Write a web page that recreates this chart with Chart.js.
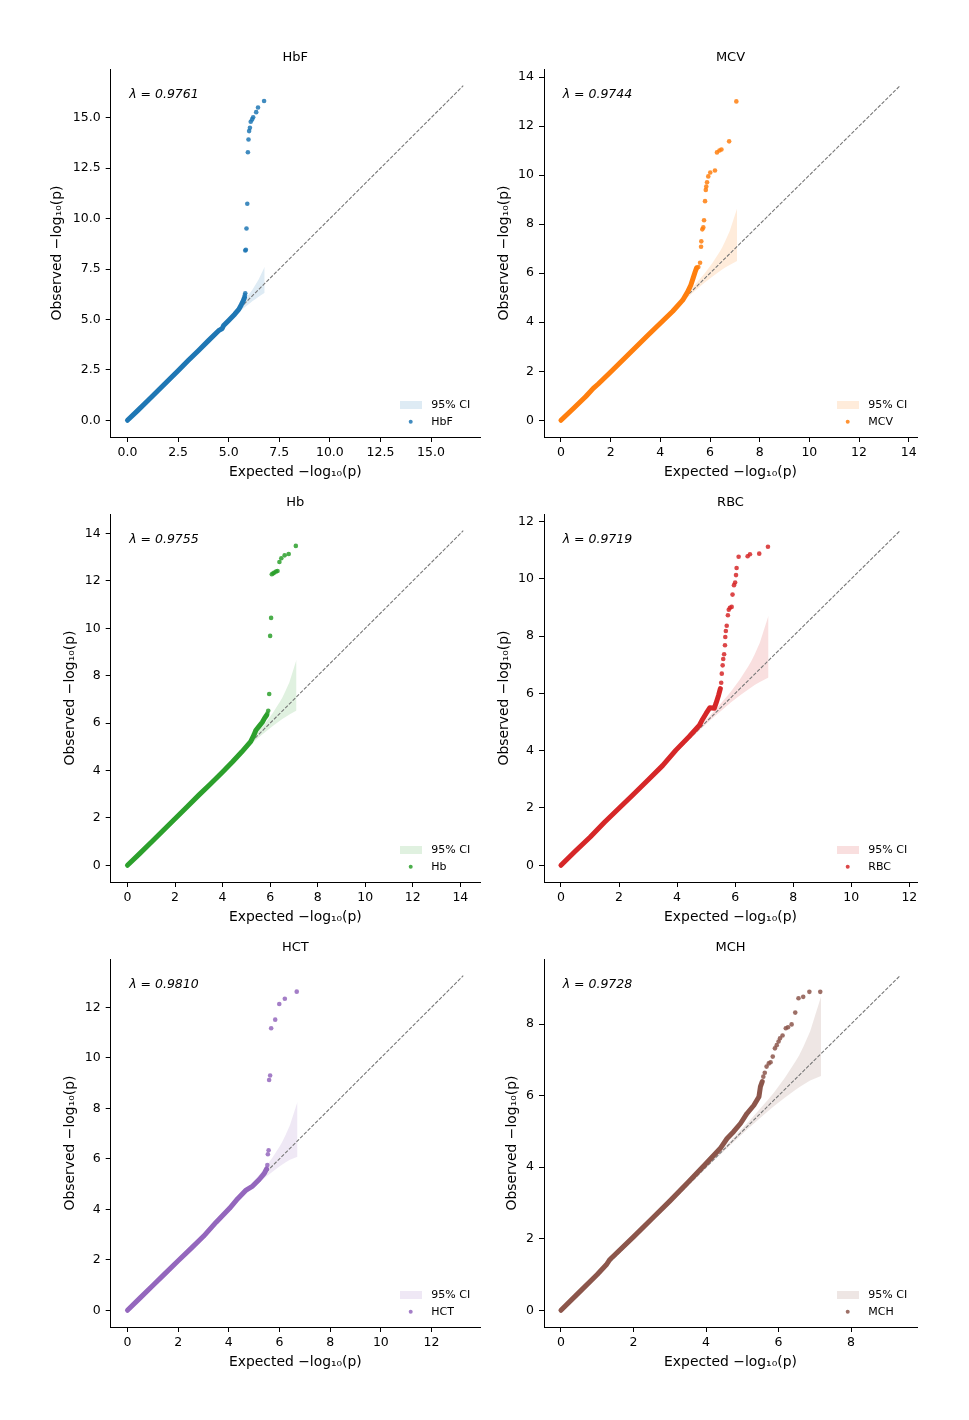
<!DOCTYPE html>
<html>
<head>
<meta charset="utf-8">
<title>QQ plots</title>
<script src="https://cdn.jsdelivr.net/npm/chart.js@4.4.1/dist/chart.umd.min.js"></script>
<style>
  body { margin: 0; background: #fff; }
  #page { position: relative; width: 969px; height: 1420px; background: #fff; }
  canvas { position: absolute; }
</style>
</head>
<body>
<div id="page"></div>
<script>
// panel names, genomic inflation and colours (tab10)
const traitNames = ['HbF', 'MCV', 'Hb', 'RBC', 'HCT', 'MCH'];
const lambdaValues = ['0.9761', '0.9744', '0.9755', '0.9719', '0.9810', '0.9728'];
const traitColors = ['#1f77b4', '#ff7f0e', '#2ca02c', '#d62728', '#9467bd', '#8c564b'];
// end of the y = x reference line in each panel
const diagonalEnds = [16.59, 13.65, 14.12, 11.68, 13.25, 9.35];

// tick labels (same on both axes)
const hbfTicks = [0, 2.5, 5, 7.5, 10, 12.5, 15];
const mcvTicks = [0, 2, 4, 6, 8, 10, 12, 14];
const hbTicks = [0, 2, 4, 6, 8, 10, 12, 14];
const rbcTicks = [0, 2, 4, 6, 8, 10, 12];
const hctTicks = [0, 2, 4, 6, 8, 10, 12];
const mchTicks = [0, 2, 4, 6, 8];

// HbF
const hbfBodyExp = [0, 0.5, 1, 1.5, 2, 2.5, 3, 3.5, 4, 4.5, 4.68, 4.75, 5, 5.3, 5.5, 5.62, 5.72, 5.78];
const hbfBodyObs = [0, 0.48, 0.97, 1.46, 1.96, 2.46, 2.96, 3.45, 3.95, 4.44, 4.55, 4.7, 4.95, 5.26, 5.5, 5.72, 5.92, 6.08];
const hbfTailExp = [5.80, 5.82, 5.82, 5.85, 5.88, 5.92, 5.95, 5.98, 6.01, 6.05, 6.09, 6.16, 6.21, 6.36, 6.45, 6.75];
const hbfTailObs = [6.20, 6.30, 8.42, 8.45, 9.51, 10.74, 13.29, 13.92, 14.34, 14.50, 14.80, 14.92, 15.03, 15.28, 15.51, 15.83];
const hbfCiExp = [0, 1.78, 2.78, 3.78, 4.78, 5.30, 5.48, 5.78, 6.08, 6.18, 6.30, 6.48, 6.78];
const hbfCiUp = [0, 1.78, 2.79, 3.80, 4.83, 5.39, 5.60, 5.96, 6.35, 6.49, 6.68, 6.98, 7.61];
const hbfCiLo = [0, 1.78, 2.77, 3.76, 4.72, 5.19, 5.34, 5.59, 5.83, 5.91, 5.99, 6.12, 6.32];

// MCV
const mcvBodyExp = [0, 0.5, 1, 1.3, 1.5, 2, 2.5, 3, 3.5, 4, 4.5, 4.9, 5.1, 5.23, 5.33, 5.4, 5.46];
const mcvBodyObs = [0, 0.48, 0.97, 1.3, 1.48, 1.97, 2.47, 2.97, 3.47, 3.96, 4.45, 4.9, 5.24, 5.52, 5.83, 6.05, 6.22];
const mcvTailExp = [5.53, 5.60, 5.64, 5.65, 5.69, 5.73, 5.76, 5.80, 5.83, 5.85, 5.88, 5.93, 6.01, 6.20, 6.28, 6.38, 6.46, 6.77, 7.06];
const mcvTailObs = [6.25, 6.43, 7.08, 7.30, 7.79, 7.87, 8.16, 8.94, 9.40, 9.54, 9.71, 9.95, 10.11, 10.19, 10.93, 11.01, 11.05, 11.38, 13.01];
const mcvCiExp = [0, 2.09, 3.09, 4.09, 5.09, 5.61, 5.79, 6.09, 6.39, 6.49, 6.61, 6.79, 7.09];
const mcvCiUp = [0, 2.09, 3.10, 4.12, 5.18, 5.78, 6.00, 6.41, 6.88, 7.05, 7.30, 7.71, 8.64];
const mcvCiLo = [0, 2.09, 3.08, 4.06, 5.01, 5.47, 5.62, 5.86, 6.08, 6.15, 6.23, 6.34, 6.50];

// Hb
const hbBodyExp = [0, 0.5, 1, 1.5, 2, 2.5, 3, 3.5, 4, 4.4, 4.8, 5.18, 5.32, 5.4, 5.53, 5.67, 5.76, 5.85];
const hbBodyObs = [0, 0.48, 0.97, 1.47, 1.96, 2.46, 2.96, 3.44, 3.94, 4.35, 4.78, 5.22, 5.5, 5.7, 5.86, 6.04, 6.2, 6.33];
const hbTailExp = [5.88, 5.92, 5.96, 6.00, 6.04, 6.07, 6.13, 6.18, 6.25, 6.31, 6.39, 6.47, 6.61, 6.78, 7.08];
const hbTailObs = [6.40, 6.52, 7.23, 9.68, 10.44, 12.28, 12.32, 12.36, 12.40, 12.42, 12.80, 12.96, 13.08, 13.14, 13.48];
const hbCiExp = [0, 2.11, 3.11, 4.11, 5.11, 5.63, 5.81, 6.11, 6.41, 6.51, 6.63, 6.81, 7.11];
const hbCiUp = [0, 2.11, 3.12, 4.14, 5.20, 5.80, 6.02, 6.43, 6.90, 7.07, 7.32, 7.73, 8.68];
const hbCiLo = [0, 2.11, 3.10, 4.08, 5.03, 5.49, 5.64, 5.88, 6.10, 6.17, 6.25, 6.36, 6.53];

// RBC
const rbcBodyExp = [0, 0.5, 1, 1.5, 2, 2.5, 3, 3.5, 3.96, 4.42, 4.77, 4.88, 5.0, 5.13, 5.28, 5.34, 5.43, 5.49];
const rbcBodyObs = [0, 0.5, 0.98, 1.5, 1.99, 2.48, 2.98, 3.48, 4.02, 4.5, 4.89, 5.1, 5.3, 5.5, 5.48, 5.65, 5.94, 6.17];
const rbcTailExp = [5.52, 5.54, 5.57, 5.59, 5.62, 5.65, 5.66, 5.68, 5.71, 5.75, 5.78, 5.82, 5.88, 5.91, 5.96, 6.00, 6.03, 6.05, 6.12, 6.43, 6.51, 6.83, 7.13];
const rbcTailObs = [6.37, 6.69, 6.98, 7.20, 7.37, 7.68, 7.97, 8.18, 8.36, 8.73, 8.92, 8.99, 9.02, 9.45, 9.78, 9.87, 10.13, 10.38, 10.77, 10.79, 10.86, 10.88, 11.12];
const rbcCiExp = [0, 2.15, 3.15, 4.15, 5.15, 5.67, 5.85, 6.15, 6.45, 6.55, 6.67, 6.85, 7.15];
const rbcCiUp = [0, 2.15, 3.16, 4.18, 5.24, 5.84, 6.06, 6.47, 6.94, 7.11, 7.36, 7.77, 8.72];
const rbcCiLo = [0, 2.15, 3.14, 4.12, 5.07, 5.53, 5.68, 5.92, 6.14, 6.21, 6.29, 6.40, 6.56];

// HCT
const hctBodyExp = [0, 0.5, 1, 1.5, 2, 2.5, 3, 3.5, 4.03, 4.35, 4.68, 4.94, 5.2, 5.4, 5.49];
const hctBodyObs = [0, 0.49, 0.98, 1.47, 1.96, 2.44, 2.93, 3.49, 4.04, 4.42, 4.76, 4.92, 5.18, 5.42, 5.6];
const hctTailExp = [5.52, 5.54, 5.57, 5.59, 5.63, 5.67, 5.83, 5.99, 6.21, 6.68];
const hctTailObs = [5.75, 6.18, 6.34, 9.12, 9.30, 11.17, 11.51, 12.13, 12.34, 12.62];
const hctCiExp = [0, 1.71, 2.71, 3.71, 4.71, 5.23, 5.41, 5.71, 6.01, 6.11, 6.23, 6.41, 6.71];
const hctCiUp = [0, 1.71, 2.72, 3.74, 4.80, 5.40, 5.62, 6.03, 6.50, 6.67, 6.92, 7.33, 8.26];
const hctCiLo = [0, 1.71, 2.70, 3.68, 4.63, 5.09, 5.24, 5.48, 5.70, 5.77, 5.85, 5.96, 6.08];

// MCH
const mchBodyExp = [0, 0.5, 1, 1.25, 1.35, 2, 2.5, 3, 3.5, 4, 4.39, 4.58, 4.76, 4.95, 5.13, 5.32, 5.46, 5.5, 5.55];
const mchBodyObs = [0, 0.5, 1.0, 1.27, 1.42, 2.05, 2.55, 3.05, 3.57, 4.1, 4.52, 4.8, 4.99, 5.22, 5.5, 5.73, 5.97, 6.25, 6.39];
const mchTailExp = [5.58, 5.62, 5.67, 5.73, 5.78, 5.84, 5.90, 5.95, 6.00, 6.04, 6.11, 6.20, 6.26, 6.36, 6.46, 6.55, 6.68, 6.85, 7.15];
const mchTailObs = [6.53, 6.64, 6.81, 6.90, 6.93, 7.09, 7.32, 7.41, 7.51, 7.60, 7.68, 7.88, 7.91, 7.99, 8.32, 8.72, 8.76, 8.90, 8.90];
const mchCiExp = [0, 2.17, 3.17, 4.17, 5.17, 5.69, 5.87, 6.17, 6.47, 6.57, 6.69, 6.87, 7.17];
const mchCiUp = [0, 2.17, 3.18, 4.20, 5.26, 5.86, 6.08, 6.49, 6.96, 7.13, 7.38, 7.79, 8.76];
const mchCiLo = [0, 2.17, 3.16, 4.14, 5.09, 5.55, 5.70, 5.94, 6.16, 6.23, 6.31, 6.42, 6.55];

const panels = [
  { ticks: hbfTicks, digits: 1, body: [hbfBodyExp, hbfBodyObs], tail: [hbfTailExp, hbfTailObs], ci: [hbfCiExp, hbfCiUp, hbfCiLo] },
  { ticks: mcvTicks, digits: 0, body: [mcvBodyExp, mcvBodyObs], tail: [mcvTailExp, mcvTailObs], ci: [mcvCiExp, mcvCiUp, mcvCiLo] },
  { ticks: hbTicks, digits: 0, body: [hbBodyExp, hbBodyObs], tail: [hbTailExp, hbTailObs], ci: [hbCiExp, hbCiUp, hbCiLo] },
  { ticks: rbcTicks, digits: 0, body: [rbcBodyExp, rbcBodyObs], tail: [rbcTailExp, rbcTailObs], ci: [rbcCiExp, rbcCiUp, rbcCiLo] },
  { ticks: hctTicks, digits: 0, body: [hctBodyExp, hctBodyObs], tail: [hctTailExp, hctTailObs], ci: [hctCiExp, hctCiUp, hctCiLo] },
  { ticks: mchTicks, digits: 0, body: [mchBodyExp, mchBodyObs], tail: [mchTailExp, mchTailObs], ci: [mchCiExp, mchCiUp, mchCiLo] }
];

// layout of the 3x2 grid (page pixels)
const colLeft = [0, 484];
const colWidth = [484, 485];
const yAxisWidth = [110.7, 60];
const padRight = [2, 52];
const yLabelCenter = [57, 20, 70, 20, 70, 28];

const FONT = '"DejaVu Sans", sans-serif';
Chart.defaults.font.family = FONT;
Chart.defaults.color = '#000';

function zip(xs, ys) {
  return xs.map((x, i) => ({ x: x, y: ys[i] }));
}

function rgba(hex, a) {
  const n = parseInt(hex.slice(1), 16);
  return `rgba(${(n >> 16) & 255}, ${(n >> 8) & 255}, ${n & 255}, ${a})`;
}

// title, lambda and legend drawn inside each panel
const panelText = {
  id: 'panelText',
  afterDraw(chart, args, opts) {
    const ctx = chart.ctx;
    const a = chart.chartArea;
    ctx.save();
    ctx.fillStyle = '#000';
    ctx.font = '13px ' + FONT;
    ctx.textAlign = 'center';
    ctx.textBaseline = 'middle';
    ctx.fillText(opts.title, (a.left + a.right) / 2, a.top - 11.5);

    ctx.font = 'italic 12.5px ' + FONT;
    ctx.textAlign = 'left';
    ctx.fillText('\u03bb = ' + opts.lambda, a.left + 0.05 * (a.right - a.left), a.top + 26);

    // legend, lower right
    ctx.fillStyle = rgba(opts.color, 0.15);
    ctx.fillRect(a.right - 80, a.bottom - 36, 22, 8);
    ctx.fillStyle = rgba(opts.color, 0.85);
    ctx.beginPath();
    ctx.arc(a.right - 69.3, a.bottom - 15.3, 2, 0, Math.PI * 2);
    ctx.fill();
    ctx.fillStyle = '#000';
    ctx.font = '11px ' + FONT;
    ctx.fillText('95% CI', a.right - 48.7, a.bottom - 31.5);
    ctx.fillText(opts.title, a.right - 48.7, a.bottom - 15);
    ctx.restore();
  }
};

const page = document.getElementById('page');

panels.forEach((p, i) => {
  const col = i % 2;
  const row = Math.floor(i / 2);
  const canvas = document.createElement('canvas');
  canvas.width = colWidth[col];
  canvas.height = 445;
  canvas.style.left = colLeft[col] + 'px';
  canvas.style.top = (40 + 445 * row) + 'px';
  page.appendChild(canvas);

  const L = diagonalEnds[i];
  const color = traitColors[i];
  const fmt = v => Number(v).toFixed(p.digits);

  const axisCommon = {
    type: 'linear',
    min: -0.05 * L,
    max: 1.05 * L,
    afterBuildTicks: s => { s.ticks = p.ticks.map(v => ({ value: v })); },
    grid: { drawOnChartArea: false, drawTicks: true, tickLength: 5, tickColor: '#000', tickWidth: 1 },
    border: { display: true, color: '#000', width: 1 }
  };

  new Chart(canvas, {
    type: 'scatter',
    data: {
      datasets: [
        {
          label: traitNames[i],
          data: zip(p.tail[0], p.tail[1]),
          backgroundColor: rgba(color, 0.85),
          borderWidth: 0,
          pointRadius: 2.3
        },
        {
          label: 'body',
          data: zip(p.body[0], p.body[1]),
          showLine: true,
          borderColor: color,
          borderWidth: 5,
          borderCapStyle: 'round',
          borderJoinStyle: 'round',
          pointRadius: 0
        },
        {
          label: 'diagonal',
          data: [{ x: 0, y: 0 }, { x: L, y: L }],
          showLine: true,
          borderColor: '#777777',
          borderWidth: 1.1,
          borderDash: [3.7, 1.6],
          pointRadius: 0
        },
        {
          label: '95% CI',
          data: zip(p.ci[0], p.ci[1]),
          showLine: true,
          borderWidth: 0,
          borderColor: 'rgba(0,0,0,0)',
          backgroundColor: rgba(color, 0.15),
          fill: '+1',
          pointRadius: 0
        },
        {
          label: 'ci lower',
          data: zip(p.ci[0], p.ci[2]),
          showLine: true,
          borderWidth: 0,
          borderColor: 'rgba(0,0,0,0)',
          pointRadius: 0
        }
      ]
    },
    options: {
      responsive: false,
      animation: false,
      events: [],
      layout: { padding: { top: 29, right: padRight[col], left: 0, bottom: 0 } },
      scales: {
        x: Object.assign({}, axisCommon, {
          position: 'bottom',
          afterFit: s => { s.height = 48; },
          ticks: { autoSkip: false, maxRotation: 0, padding: 3.5, color: '#000', font: { size: 12.5 }, callback: fmt },
          title: { display: true, text: 'Expected \u2212log\u2081\u2080(p)', color: '#000', font: { size: 13.9, lineHeight: 1.2 }, padding: { top: 0, bottom: 3.8 } }
        }),
        y: Object.assign({}, axisCommon, {
          position: 'left',
          afterFit: s => { s.width = yAxisWidth[col]; },
          ticks: { autoSkip: false, padding: 5, color: '#000', font: { size: 12.5 }, callback: fmt },
          title: { display: true, text: 'Observed \u2212log\u2081\u2080(p)', color: '#000', font: { size: 13.9, lineHeight: 1.2 }, padding: { top: yLabelCenter[i] - 8.34, bottom: 0 } }
        })
      },
      plugins: {
        legend: { display: false },
        tooltip: { enabled: false },
        panelText: { title: traitNames[i], lambda: lambdaValues[i], color: color }
      }
    },
    plugins: [panelText]
  });
});
</script>
</body>
</html>
